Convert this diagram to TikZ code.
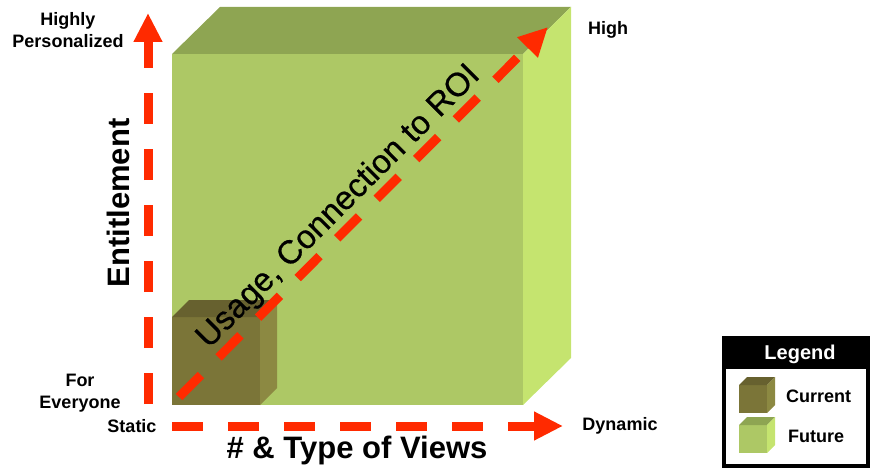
\documentclass[tikz,border=0pt]{standalone}
\usepackage{fontspec}
\setmainfont{Liberation Sans}
\newfontfamily\diagfont[FakeBold=0.6]{Liberation Sans}
\usetikzlibrary{arrows.meta}
\definecolor{bigfront}{HTML}{ADC865}
\definecolor{bigtop}{HTML}{8EA552}
\definecolor{bigright}{HTML}{C5E46F}
\definecolor{smfront}{HTML}{7B7538}
\definecolor{smtop}{HTML}{67612F}
\definecolor{smright}{HTML}{8C8942}
\definecolor{axred}{HTML}{FF2A00}
\tikzset{
  axisarrow/.style={line width=9pt, draw=axred, dash pattern=on 31pt off 25pt,
    -{Triangle[length=29pt,width=27pt,fill=axred]}},
  smalllabel/.style={font=\fontsize{18}{22}\selectfont\bfseries, align=center, inner sep=0pt},
  biglabel/.style={font=\fontsize{31}{36}\selectfont\bfseries, inner sep=0pt},
  diaglabel/.style={font=\diagfont\fontsize{33}{36}\selectfont, inner sep=0pt, rotate=45},
  legendtext/.style={font=\fontsize{18}{22}\selectfont\bfseries, inner sep=0pt}
}
\begin{document}
\begin{tikzpicture}[x=1pt,y=-1pt]
\useasboundingbox (0,0) rectangle (870,468);
% big cube (Future)
\fill[bigfront] (172,54) rectangle (523,405);
\fill[bigtop] (172,54) -- (220,7) -- (571,7) -- (523,54) -- cycle;
\fill[bigright] (523,54) -- (571,7) -- (571,358) -- (523,405) -- cycle;
% small cube (Current)
\fill[smfront] (172,317) rectangle (260,405);
\fill[smtop] (172,317) -- (189,300) -- (277,300) -- (260,317) -- cycle;
\fill[smright] (260,317) -- (277,300) -- (277,388) -- (260,405) -- cycle;
% axes
\coordinate (vstart) at (148,404);
\coordinate (vend) at (148,13);
\coordinate (hstart) at (172,426);
\coordinate (hend) at (563,426);
\coordinate (dstart) at (179,397);
\coordinate (dend) at (548,27);
\draw[axisarrow] (vstart) -- (vend);
\draw[axisarrow] (hstart) -- (hend);
\draw[axisarrow] (dstart) -- (dend);
% diagonal label
\node[diaglabel, black] (diag) at (339,207) {Usage, Connection to ROI};
% axis labels
\node[biglabel, rotate=90] (entitle) at (118,203) {Entitlement};
\node[biglabel] (views) at (357,450) {\# \& Type of Views};
\node[smalllabel] (highper) at (68,30) {Highly\\Personalized};
\node[smalllabel] (foreveryone) at (80,393) {For\\Everyone};
\node[smalllabel] (static) at (132,426) {Static};
\node[smalllabel] (dynamic) at (620,426) {Dynamic};
\node[smalllabel] (high) at (608,30) {High};
% legend
\fill[black] (722,336) rectangle (870,369);
\draw[line width=4pt] (724,338) rectangle (868,466);
\node[legendtext, white, font=\fontsize{20}{24}\selectfont\bfseries] (legtitle) at (800,354) {Legend};
\fill[smfront] (739,385) rectangle (767,413);
\fill[smtop] (739,385) -- (747,377) -- (775,377) -- (767,385) -- cycle;
\fill[smright] (767,385) -- (775,377) -- (775,405) -- (767,413) -- cycle;
\fill[bigfront] (739,425) rectangle (767,453);
\fill[bigtop] (739,425) -- (747,417) -- (775,417) -- (767,425) -- cycle;
\fill[bigright] (767,425) -- (775,417) -- (775,445) -- (767,453) -- cycle;
\node[legendtext, anchor=west] (legcur) at (786,396) {Current};
\node[legendtext, anchor=west] (legfut) at (788,436) {Future};
\end{tikzpicture}
\end{document}
